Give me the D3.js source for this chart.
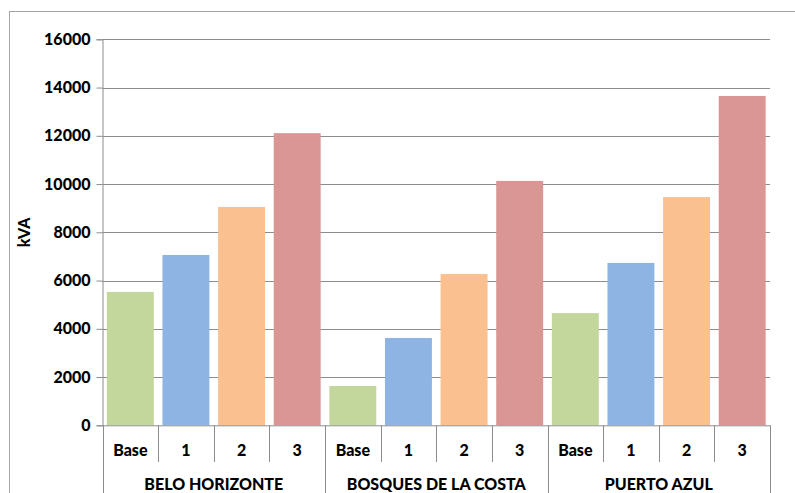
<!DOCTYPE html>
<html><head><meta charset="utf-8">
<script src="https://cdn.jsdelivr.net/npm/d3@7/dist/d3.min.js"></script>
<style>body{margin:0;background:#fff}svg{display:block}text{font-family:Lato,"Open Sans",sans-serif;font-weight:900;fill:#000}</style>
</head><body><svg id="c" width="795" height="493"></svg>
<script>
const groups = ["BELO HORIZONTE", "BOSQUES DE LA COSTA", "PUERTO AZUL"];
const scenarios = ["Base", "1", "2", "3"];
const values = [
  [5530, 7060, 9050, 12110],
  [1630, 3620, 6270, 10130],
  [4650, 6730, 9460, 13650]
];
const colors = ["#c3d69b", "#8eb4e3", "#fac090", "#d99694"];
const yTicks = [0, 2000, 4000, 6000, 8000, 10000, 12000, 14000, 16000];
const yLabel = "kVA";

(function () {
const svg = d3.select("#c");
const pLeft = 102.5, pRight = 770, pTop = 39.3, pBottom = 425.3;
const FW = 900;

// outer frame
svg.append("rect").attr("x", 9.5).attr("y", 11.5).attr("width", 800).attr("height", 500)
  .attr("fill", "none").attr("stroke", "#a6a6a6");

const cats = [];
groups.forEach((g, gi) => scenarios.forEach((s, si) => cats.push({g, gi, s, si, v: values[gi][si]})));

const x = d3.scaleBand().domain(cats.map((d, i) => i)).range([pLeft, pRight]).paddingInner(0.156).paddingOuter(0.078);
const y = d3.scaleLinear().domain([0, 16000]).range([pBottom, pTop]);

// gridlines
svg.append("g").selectAll("line").data(yTicks.filter(t => t > 0)).join("line")
  .attr("x1", pLeft).attr("x2", pRight).attr("y1", d => Math.round(y(d)) + 0.5).attr("y2", d => Math.round(y(d)) + 0.5)
  .attr("stroke", "#8c8c8c");

// y axis
const ya = svg.append("g").attr("transform", `translate(${pLeft},0)`)
  .call(d3.axisLeft(y).tickValues(yTicks).tickSize(6).tickPadding(6).tickFormat(d3.format("d")));
ya.select(".domain").attr("stroke", "#8c8c8c");
ya.selectAll(".tick line").attr("stroke", "#8c8c8c");
ya.selectAll(".tick text").attr("fill", "#000").style("font-size", "16px").style("font-family", "Lato, sans-serif").style("font-weight", FW);

svg.append("text").attr("transform", `translate(30,${(pTop + pBottom) / 2}) rotate(-90)`)
  .attr("text-anchor", "middle").style("font-size", "16px").text(yLabel);

// bars
svg.append("g").selectAll("rect").data(cats).join("rect")
  .attr("x", (d, i) => x(i)).attr("width", x.bandwidth())
  .attr("y", d => y(d.v)).attr("height", d => y(0) - y(d.v))
  .attr("fill", d => colors[d.si]);

// x axis baseline
svg.append("line").attr("x1", pLeft).attr("x2", pRight).attr("y1", pBottom + 0.5).attr("y2", pBottom + 0.5).attr("stroke", "#8c8c8c");

// category separators
const step = x.step();
const bounds = d3.range(cats.length + 1).map(i => pLeft + i * step);
svg.append("g").selectAll("line").data(bounds).join("line")
  .attr("x1", d => Math.round(d) + 0.5).attr("x2", d => Math.round(d) + 0.5)
  .attr("y1", pBottom).attr("y2", (d, i) => i % 4 === 0 ? 493 : 462)
  .attr("stroke", "#8c8c8c");

// scenario labels
svg.append("g").selectAll("text").data(cats).join("text")
  .attr("x", (d, i) => pLeft + (i + 0.5) * step).attr("y", 456)
  .attr("text-anchor", "middle").style("font-size", "16px").text(d => d.s);

// group labels
svg.append("g").selectAll("text").data(groups).join("text")
  .attr("x", (d, i) => pLeft + (i * 4 + 2) * step).attr("y", 490)
  .attr("text-anchor", "middle").style("font-size", "16px").text(d => d);
})();
</script></body></html>
